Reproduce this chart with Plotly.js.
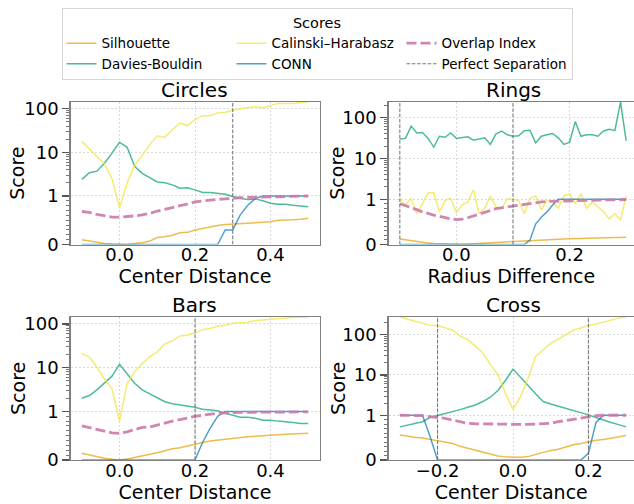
<!DOCTYPE html>
<html>
<head>
<meta charset="utf-8">
<script src="https://cdn.plot.ly/plotly-3.0.1.min.js"></script>
<style>html,body{margin:0;padding:0;background:#fff;}#chart{width:634px;height:504px;}</style>
</head>
<body>
<div id="chart"></div>
<script>
// ---------------- data ----------------
const seriesNames = ["Silhouette", "Davies-Bouldin", "Calinski\u2013Harabasz", "CONN", "Overlap Index"];
const panelTitles = ["Circles", "Rings", "Bars", "Cross"];
const xLabels = ["Center Distance", "Radius Difference", "Center Distance", "Center Distance"];
const yLabel = "Score";

const circlesX = [-0.1,-0.08,-0.06,-0.04,-0.02,0,0.02,0.04,0.06,0.08,0.1,0.12,0.14,0.16,0.18,0.2,0.22,0.24,0.26,0.28,0.3,0.32,0.34,0.36,0.38,0.4,0.42,0.44,0.46,0.48,0.5];
const circlesSil = [0.10,0.07,0.035,0.02,0.01,0.0,0.0,0.02,0.035,0.07,0.145,0.16,0.19,0.24,0.25,0.3,0.33,0.37,0.39,0.41,0.42,0.44,0.45,0.455,0.455,0.47,0.5,0.5,0.51,0.52,0.54];
const circlesDB = [2.4,3.4,3.7,5.6,9.6,17,13,4.8,3.3,2.6,2.1,2.0,1.8,1.5,1.55,1.38,1.2,1.2,1.17,1.1,0.99,0.95,0.93,0.94,0.9,0.85,0.83,0.83,0.81,0.79,0.78];
const circlesCH = [17.8,12,8,5.4,2.5,0.75,2.0,5,8.5,15,24,22,33,47,41,56,69,69,80,83,92,100,106,112,104,118,131,131,131,138,142];
const circlesCONN = [0,0,0,0,0,0,0,0,0,0,0,0,0,0,0,0,0,0,0,0.3,0.3,0.61,0.81,0.95,1,1,1,1,1,1,1];
const circlesOI = [0.68,0.66,0.62,0.59,0.565,0.565,0.57,0.59,0.61,0.64,0.69,0.72,0.76,0.8,0.83,0.88,0.9,0.92,0.93,0.94,0.96,0.965,0.97,0.975,0.98,0.985,0.99,0.99,0.995,1.0,1.0];
const circlesSep = [0.3];

const ringsX = [-0.1,-0.09,-0.08,-0.07,-0.06,-0.05,-0.04,-0.03,-0.02,-0.01,0,0.01,0.02,0.03,0.04,0.05,0.06,0.07,0.08,0.09,0.1,0.11,0.12,0.13,0.14,0.15,0.16,0.17,0.18,0.19,0.2,0.21,0.22,0.23,0.24,0.25,0.26,0.27,0.28,0.29,0.3];
const ringsSil = [0.12,0.10,0.08,0.065,0.05,0.035,0.02,0.015,0.01,0.005,0,0.005,0.01,0.015,0.02,0.028,0.035,0.043,0.05,0.058,0.065,0.072,0.08,0.088,0.095,0.1,0.11,0.115,0.12,0.122,0.125,0.128,0.13,0.135,0.14,0.143,0.147,0.15,0.155,0.157,0.16];
const ringsDB = [30,31,62,42,43,31,19,35,33,42,31,32,34,28,30,32,22,40,47,38,35,36,48,49,24,35,38,41,32,22,25,80,35,38,38,35,47,52,48,242,27];
const ringsCH = [1.03,0.87,1.06,0.68,0.9,1.43,1.43,0.72,0.97,1.06,0.7,0.87,0.94,1.7,0.68,0.8,1.2,0.83,0.8,1.03,1.0,0.97,0.68,1.07,1.2,0.76,0.98,0.94,0.8,1.2,1.35,0.9,1.35,0.8,0.94,0.83,0.72,0.57,0.68,0.54,1.2];
const ringsCONN = [0,0,0,0,0,0,0,0,0,0,0,0,0,0,0,0,0,0,0,0,0,0,0,0.1,0.45,0.6,0.72,0.87,1,1,1,1,1,1,1,1,1,1,1,1,1];
const ringsOI = [0.9,0.86,0.82,0.77,0.72,0.68,0.65,0.62,0.59,0.565,0.55,0.56,0.59,0.63,0.68,0.72,0.76,0.79,0.81,0.83,0.85,0.87,0.89,0.91,0.93,0.94,0.95,0.955,0.96,0.965,0.97,0.972,0.975,0.977,0.98,0.98,0.983,0.985,0.987,0.99,0.99];
const ringsSep = [-0.1, 0.1];

const barsX = [-0.1,-0.08,-0.06,-0.04,-0.02,0,0.02,0.04,0.06,0.08,0.1,0.12,0.14,0.16,0.18,0.2,0.22,0.24,0.26,0.28,0.3,0.32,0.34,0.36,0.38,0.4,0.42,0.44,0.46,0.48,0.5];
const barsSil = [0.14,0.1,0.07,0.034,0.014,0,0.02,0.05,0.08,0.116,0.15,0.19,0.23,0.25,0.29,0.32,0.36,0.39,0.41,0.43,0.45,0.465,0.48,0.49,0.505,0.51,0.52,0.53,0.535,0.54,0.55];
const barsDB = [2.0,2.3,3.1,4.5,6.4,12,7.4,4.4,3.1,2.5,2.1,1.66,1.5,1.42,1.3,1.24,1.12,1.09,1.03,0.96,0.92,0.88,0.88,0.86,0.82,0.82,0.8,0.79,0.77,0.75,0.75];
const barsCH = [21,17.6,10.2,5.5,3.3,0.8,4.4,8.1,12.3,17.6,23,35,41,53,56,62,74,79,88,93,103,105,109,120,124,130,135,137,140,142,144];
const barsCONN = [0,0,0,0,0,0,0,0,0,0,0,0,0,0,0,0,0.36,0.65,0.9,1,1,1,1,1,1,1,1,1,1,1,1];
const barsOI = [0.7,0.67,0.63,0.595,0.56,0.55,0.58,0.63,0.67,0.68,0.72,0.77,0.8,0.83,0.87,0.9,0.92,0.945,0.96,0.97,0.98,0.98,0.982,0.984,0.985,0.985,0.986,0.987,0.988,0.988,0.99];
const barsSep = [0.2];

const crossX = [-0.3,-0.28,-0.26,-0.24,-0.22,-0.2,-0.18,-0.16,-0.14,-0.12,-0.1,-0.08,-0.06,-0.04,-0.02,0,0.02,0.04,0.06,0.08,0.1,0.12,0.14,0.16,0.18,0.2,0.22,0.24,0.26,0.28,0.3];
const crossSil = [0.56,0.53,0.51,0.49,0.46,0.42,0.4,0.37,0.305,0.26,0.21,0.17,0.13,0.09,0.07,0.06,0.06,0.076,0.13,0.17,0.21,0.24,0.29,0.34,0.37,0.41,0.44,0.46,0.49,0.52,0.55];
const crossDB = [0.74,0.78,0.82,0.855,0.95,0.99,1.1,1.23,1.38,1.58,1.8,2.19,2.8,4.1,7.3,14,9,5.5,3.4,2.19,1.9,1.68,1.5,1.33,1.19,1.02,0.95,0.89,0.84,0.79,0.74];
const crossCH = [275,245,215,195,171,168,147,129,92,76,52,35,18,10.3,3.5,1.4,2.9,8.3,29,43,61,78,100,129,147,171,185,210,230,258,275];
const crossCONN = [1,1,1,1,0.53,0,0,0,0,0,0,0,0,0,0,0,0,0,0,0,0,0,0,0,0,0.15,0.84,1,1,1,1];
const crossOI = [1.0,1.0,1.0,0.99,0.97,0.95,0.93,0.89,0.855,0.82,0.81,0.805,0.805,0.8,0.8,0.8,0.795,0.795,0.8,0.805,0.82,0.855,0.885,0.915,0.945,0.975,0.99,1.0,1.0,1.0,1.0];
const crossSep = [-0.2, 0.2];

const yTickValues = [0, 1, 10, 100];
const yTickLabels = ["0", "1", "10", "100"];
const yMinorValues = [0.1,0.2,0.3,0.4,0.5,0.6,0.7,0.8,0.9,2,3,4,5,6,7,8,9,20,30,40,50,60,70,80,90,200,300];

// ---------------- helpers ----------------
// matplotlib-style symlog (linthresh = 1, linscale = 1, base 10)
const LINSCALE = 1 / (1 - 1 / 10);
function symlog(v) { return v <= 1 ? v * LINSCALE : LINSCALE + Math.log10(v); }

const panels = [
  {x: circlesX, s: [circlesSil, circlesDB, circlesCH, circlesCONN, circlesOI], sep: circlesSep},
  {x: ringsX,   s: [ringsSil, ringsDB, ringsCH, ringsCONN, ringsOI],           sep: ringsSep},
  {x: barsX,    s: [barsSil, barsDB, barsCH, barsCONN, barsOI],                sep: barsSep},
  {x: crossX,   s: [crossSil, crossDB, crossCH, crossCONN, crossOI],           sep: crossSep}
];

// ---------------- styling ----------------
const FONT = "DejaVu Sans";
const W = 634, H = 504;
const colors = ["rgba(230,159,0,0.7)", "rgba(0,158,115,0.7)", "rgba(240,228,66,0.75)", "rgba(0,114,178,0.68)", "rgba(204,121,167,0.9)"];
const widths = [1.5, 1.5, 1.5, 1.5, 2.8];
const dashes = ["solid", "solid", "solid", "solid", "10px,4px"];
const legendRank = [1, 4, 2, 5, 3];

// pixel boxes of plot areas
const boxes = [
  {l: 70.5, r: 319.5, t: 102, b: 244.5},
  {l: 388.5, r: 637.5, t: 102, b: 244.5},
  {l: 70.5, r: 319.5, t: 317, b: 460},
  {l: 388.5, r: 637.5, t: 317, b: 460}
];
const yTitleOffset = [53, 51, 53, 51];

const traces = [];
const layout = {
  width: W, height: H,
  margin: {l: 0, r: 0, t: 0, b: 0, autoexpand: false},
  paper_bgcolor: "#fff", plot_bgcolor: "#fff",
  font: {family: FONT, color: "#000"},
  showlegend: true,
  legend: {
    orientation: "h",
    xref: "paper", yref: "paper",
    x: 0.5, xanchor: "center",
    y: 1 - 8 / H, yanchor: "top",
    bgcolor: "#fff", bordercolor: "#d6d6d6", borderwidth: 1,
    font: {family: FONT, size: 13.5, color: "#000"},
    title: {text: "Scores", side: "top center", font: {family: FONT, size: 14.5, color: "#000"}},
    entrywidth: 125, entrywidthmode: "pixels",
    itemwidth: 30, tracegroupgap: 0
  },
  annotations: []
};

panels.forEach((p, i) => {
  const n = i + 1;
  const xa = "x" + (n === 1 ? "" : n), ya = "y" + (n === 1 ? "" : n);
  const xk = "xaxis" + (n === 1 ? "" : n), yk = "yaxis" + (n === 1 ? "" : n);
  let ymax = 0;
  p.s.forEach(arr => arr.forEach(v => { if (v > ymax) ymax = v; }));
  const yTop = symlog(ymax);

  p.s.forEach((arr, k) => {
    traces.push({
      type: "scatter", mode: "lines", x: p.x, y: arr.map(symlog),
      xaxis: xa, yaxis: ya, name: seriesNames[k], legendgroup: seriesNames[k],
      legendrank: legendRank[k], showlegend: i === 0,
      line: {color: colors[k], width: widths[k], dash: dashes[k]},
      hoverinfo: "skip"
    });
  });
  p.sep.forEach((s, j) => {
    traces.push({
      type: "scatter", mode: "lines", x: [s, s], y: [0, yTop],
      xaxis: xa, yaxis: ya, name: "Perfect Separation", legendgroup: "sep",
      legendrank: 6, showlegend: i === 0 && j === 0,
      line: {color: "rgba(100,100,100,0.85)", width: 1.1, dash: "3.7px,1.6px"},
      hoverinfo: "skip"
    });
  });

  const bx = boxes[i];
  const xmin = p.x[0], xmax = p.x[p.x.length - 1];
  const span = xmax - xmin, lo = xmin - 0.05 * span, hi = xmax + 0.05 * span;
  const pxPerUnit = (bx.r - bx.l) / (hi - lo);
  const visR = Math.min(bx.r, W);
  const hiVis = lo + (visR - bx.l) / pxPerUnit;
  const right = i % 2 === 1;

  layout[xk] = {
    domain: [bx.l / W, visR / W], range: [lo, hiVis], anchor: ya,
    tickmode: "linear", tick0: 0, dtick: 0.2, tickformat: ".1f",
    ticks: "", ticklabelstandoff: -6,
    showgrid: true, gridcolor: "#d0d0d0", gridwidth: 0.8, griddash: "2px,2px",
    zeroline: false, showline: true, linecolor: "#808080", linewidth: 1.2, mirror: true,
    tickfont: {family: FONT, size: 18, color: "#000"},
    title: {text: xLabels[i], font: {family: FONT, size: 19, color: "#000"}, standoff: 0},
    automargin: false,
    fixedrange: true
  };
  layout[yk] = {
    domain: [1 - bx.b / H, 1 - bx.t / H], range: [0, yTop], anchor: xa,
    tickmode: "array", tickvals: yTickValues.map(symlog), ticktext: yTickLabels,
    ticks: "outside", ticklen: 7, tickwidth: 1.2, tickcolor: "#555",
    minor: {tickmode: "array", tickvals: yMinorValues.filter(v => symlog(v) < yTop).map(symlog),
            ticks: "outside", ticklen: 3.5, tickwidth: 0.9, tickcolor: "#666", showgrid: false},
    showgrid: true, gridcolor: "#d0d0d0", gridwidth: 0.8, griddash: "2px,2px",
    zeroline: false, showline: true, linecolor: "#808080", linewidth: 1.2, mirror: !right,
    tickfont: {family: FONT, size: 18, color: "#000"},
    automargin: false,
    fixedrange: true
  };
  // panel title
  layout.annotations.push({
    text: panelTitles[i], xref: "paper", yref: "paper",
    x: ((bx.l + bx.r) / 2) / W, y: 1 - bx.t / H, xanchor: "center", yanchor: "bottom",
    showarrow: false, font: {family: FONT, size: 20, color: "#000"}, yshift: -2
  });
  // y-axis title
  layout.annotations.push({
    text: yLabel, xref: "paper", yref: "paper", textangle: -90,
    x: (bx.l - yTitleOffset[i]) / W, y: 1 - ((bx.t + bx.b) / 2) / H,
    xanchor: "center", yanchor: "middle",
    showarrow: false, font: {family: FONT, size: 19, color: "#000"}
  });
});

Plotly.newPlot("chart", traces, layout, {displayModeBar: false, staticPlot: true});
</script>
</body>
</html>
